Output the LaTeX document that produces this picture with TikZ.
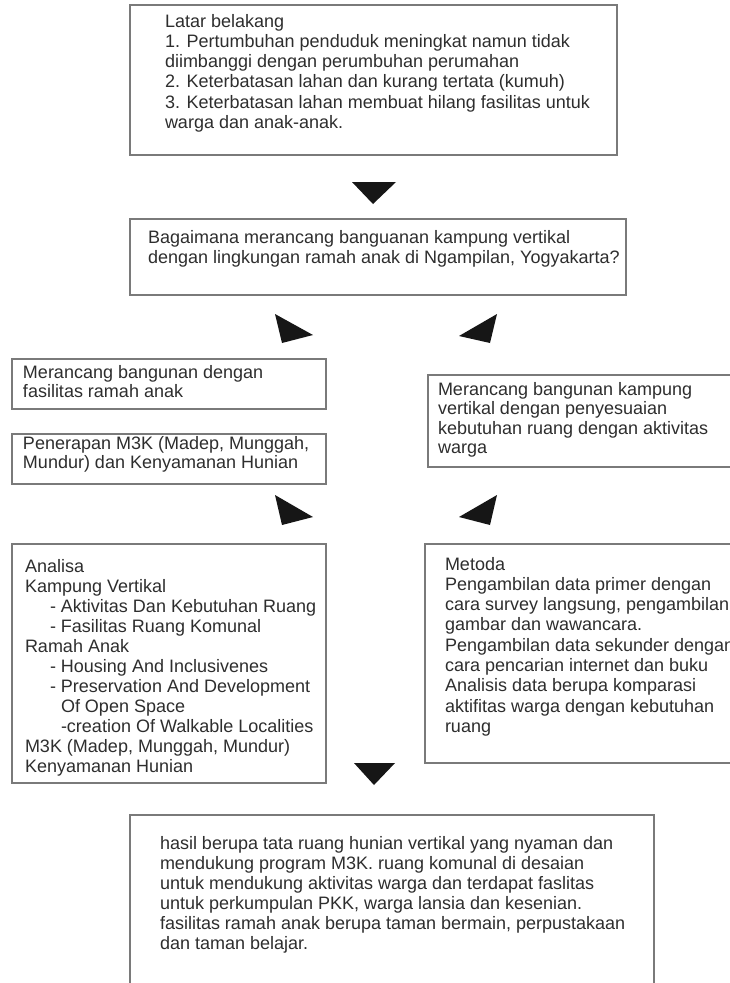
\documentclass[tikz,border=0pt]{standalone}
\usepackage{fontspec}
\setmainfont{Liberation Sans}
\definecolor{txtc}{HTML}{2E2E2E}
\definecolor{boxc}{HTML}{7A7A7A}
\definecolor{trc}{HTML}{161616}
\newcommand{\fl}{\rule{0pt}{14pt}}
\tikzset{
  box/.style={draw=boxc, line width=1.3pt, anchor=north west, inner sep=0pt, outer sep=0pt},
  txt/.style={anchor=north west, inner sep=0pt, outer sep=0pt, align=left, text=txtc,
              font=\fontsize{18}{20.3}\selectfont},
  txtm/.style={txt, font=\fontsize{18}{19.5}\selectfont},
  tri/.style={fill=trc},
}
\begin{document}
\begin{tikzpicture}[x=1pt,y=-1pt]
\path[use as bounding box] (0,0) rectangle (730,983);
\clip (0,0) rectangle (730,983);
\fill[white] (0,0) rectangle (730,983);

% top box
\node[box, minimum width=487pt, minimum height=150pt] (bg) at (130,5) {};
\node[txt] (bgt) at (165,13) {\fl Latar belakang\\
1. Pertumbuhan penduduk meningkat namun tidak\\
diimbanggi dengan perumbuhan perumahan\\
2. Keterbatasan lahan dan kurang tertata (kumuh)\\
3. Keterbatasan lahan membuat hilang fasilitas untuk\\
warga dan anak-anak.};

\fill[tri] (352,182) -- (396,182) -- (373,204) -- cycle;

% question box
\node[box, minimum width=496pt, minimum height=76pt] (q) at (130,219) {};
\node[txt] (qt) at (148,229) {\fl Bagaimana merancang banguanan kampung vertikal\\
dengan lingkungan ramah anak di Ngampilan, Yogyakarta?};

\fill[tri] (275,314) -- (313,335) -- (282,343) -- cycle;
\fill[tri] (497,314) -- (459,336) -- (490,343) -- cycle;

% left boxes
\node[box, minimum width=314pt, minimum height=50pt] (l1) at (12,359) {};
\node[txtm] (l1t) at (23,364) {\fl Merancang bangunan dengan\\
fasilitas ramah anak};
\node[box, minimum width=314pt, minimum height=50pt] (l2) at (12,434) {};
\node[txtm] (l2t) at (23,435) {\fl Penerapan M3K (Madep, Munggah,\\
Mundur) dan Kenyamanan Hunian};

% right box
\node[box, minimum width=322pt, minimum height=92pt] (r1) at (428,375) {};
\node[txtm] (r1t) at (438,381) {\fl Merancang bangunan kampung\\
vertikal dengan penyesuaian\\
kebutuhan ruang dengan aktivitas\\
warga};

\fill[tri] (275,495) -- (313,517) -- (282,525) -- cycle;
\fill[tri] (497,495) -- (459,517) -- (490,525) -- cycle;

% analisa
\node[box, minimum width=314pt, minimum height=239pt] (an) at (12,544) {};
\node[txt, font=\fontsize{18}{20}\selectfont] (ant) at (25,558) {\fl Analisa\\
Kampung Vertikal\\
\hspace*{25pt}- Aktivitas Dan Kebutuhan Ruang\\
\hspace*{25pt}- Fasilitas Ruang Komunal\\
Ramah Anak\\
\hspace*{25pt}- Housing And Inclusivenes\\
\hspace*{25pt}- Preservation And Development\\
\hspace*{36pt}Of Open Space\\
\hspace*{36pt}-creation Of Walkable Localities\\
M3K (Madep, Munggah, Mundur)\\
Kenyamanan Hunian};

% metoda
\node[box, minimum width=322pt, minimum height=219pt] (me) at (425,544) {};
\node[txt] (met) at (445,556) {\fl Metoda\\
Pengambilan data primer dengan\\
cara survey langsung, pengambilan\\
gambar dan wawancara.\\
Pengambilan data sekunder dengan\\
cara pencarian internet dan buku\\
Analisis data berupa komparasi\\
aktifitas warga dengan kebutuhan\\
ruang};

\fill[tri] (354,763) -- (395,763) -- (374,785) -- cycle;

% result
\node[box, minimum width=524pt, minimum height=200pt] (res) at (130,815) {};
\node[txt, font=\fontsize{18}{20}\selectfont] (rest) at (160,835) {\fl hasil berupa tata ruang hunian vertikal yang nyaman dan\\
mendukung program M3K. ruang komunal di desaian\\
untuk mendukung aktivitas warga dan terdapat faslitas\\
untuk perkumpulan PKK, warga lansia dan kesenian.\\
fasilitas ramah anak berupa taman bermain, perpustakaan\\
dan taman belajar.};
\end{tikzpicture}
\end{document}
